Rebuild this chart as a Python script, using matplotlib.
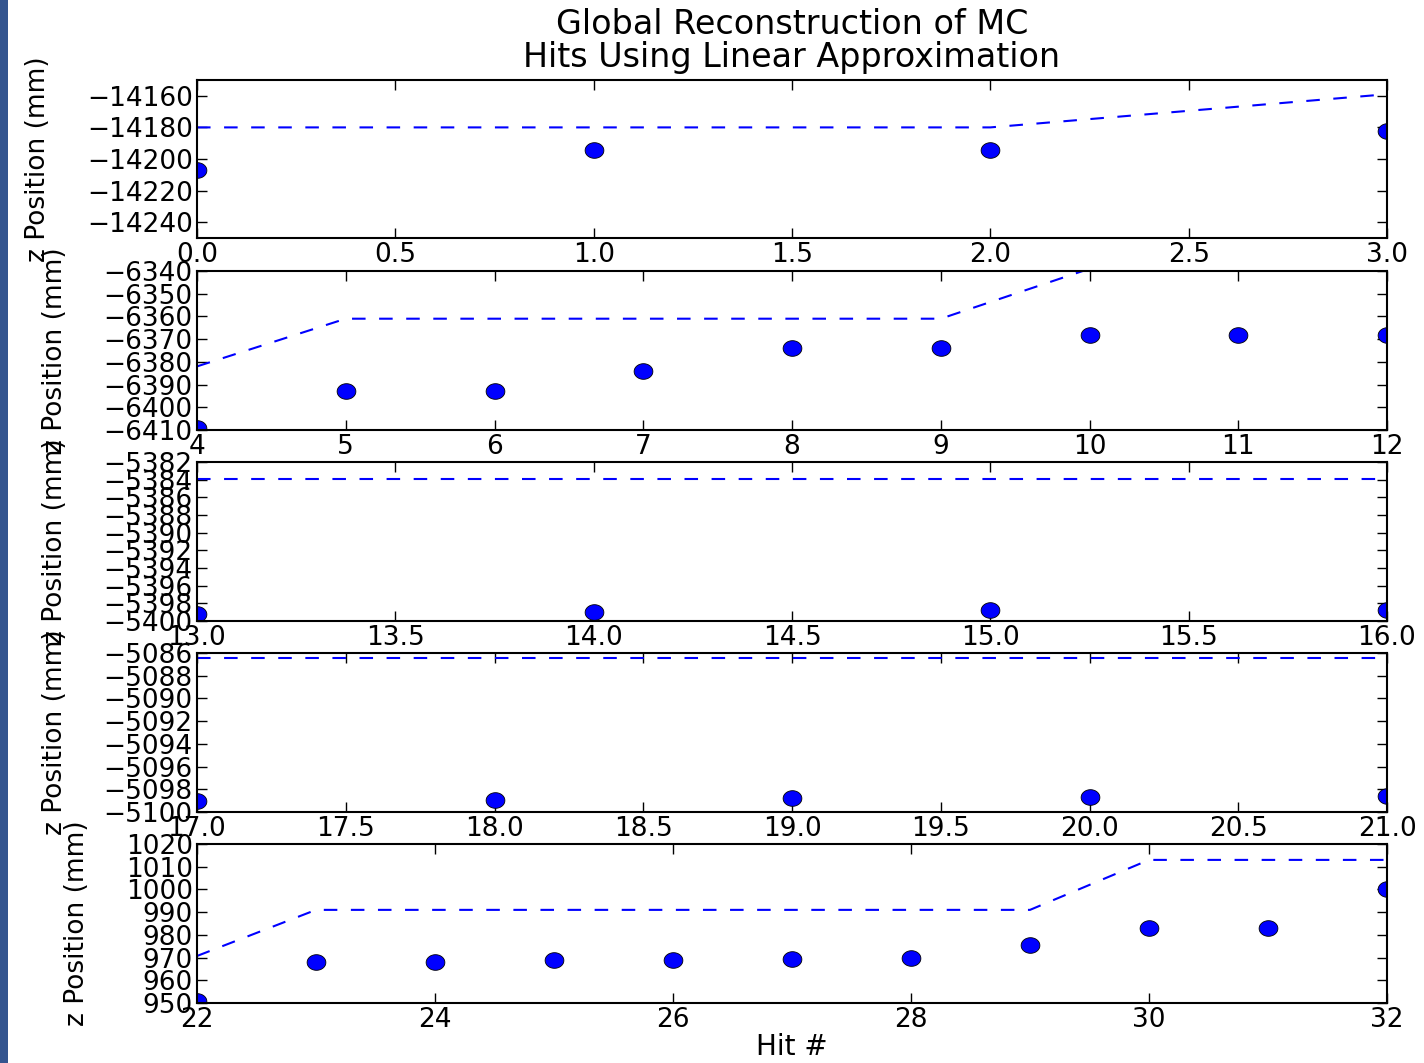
import matplotlib
matplotlib.use("Agg")
import matplotlib.pyplot as plt
import numpy as np
from matplotlib.patches import Rectangle
from matplotlib.ticker import MultipleLocator, ScalarFormatter

# hit numbers, measured z of the MC hits and the linear reconstruction, per panel
hits_1 = [0, 1, 2, 3]
z_mc_1 = [-14207, -14194, -14194, -14182]
z_fit_1 = [-14180, -14180, -14180, -14159]

hits_2 = [4, 5, 6, 7, 8, 9, 10, 11, 12]
z_mc_2 = [-6409, -6393, -6393, -6384, -6374, -6374, -6368, -6368, -6368]
z_fit_2 = [-6382, -6361, -6361, -6361, -6361, -6361, -6339, -6339, -6339]

hits_3 = [13, 14, 15, 16]
z_mc_3 = [-5399.2, -5399.0, -5398.8, -5398.8]
z_fit_3 = [-5383.9, -5383.9, -5383.9, -5383.9]

hits_4 = [17, 18, 19, 20, 21]
z_mc_4 = [-5099.0, -5098.9, -5098.8, -5098.7, -5098.6]
z_fit_4 = [-5086.4, -5086.4, -5086.4, -5086.4, -5086.4]

hits_5 = [22, 23, 24, 25, 26, 27, 28, 29, 30, 31, 32]
z_mc_5 = [951, 968, 968, 969, 969, 969.4, 970, 975.5, 983, 983, 1000]
z_fit_5 = [970.7, 991, 991, 991, 991, 991, 991, 991, 1013, 1013, 1013]

panels = [
    (hits_1, z_mc_1, z_fit_1, (-14250, -14150), 20, 0.5),
    (hits_2, z_mc_2, z_fit_2, (-6410, -6340), 10, 1),
    (hits_3, z_mc_3, z_fit_3, (-5400, -5382), 2, 0.5),
    (hits_4, z_mc_4, z_fit_4, (-5100, -5086), 2, 0.5),
    (hits_5, z_mc_5, z_fit_5, (950, 1020), 10, 2),
]

# axes boxes in pixels (top, bottom) of the 1424x1063 figure
boxes_px = [(80, 238), (271, 430), (462, 621), (653, 812), (844, 1003)]

W, H = 1424, 1063
FS = 19

plt.rcParams["font.family"] = ["DejaVu Sans"]

t = np.linspace(0, 2 * np.pi, 60)
ellipse = np.column_stack([1.2 * np.cos(t), np.sin(t)])

fig = plt.figure(figsize=(W / 100, H / 100), dpi=100)
fig.patches.append(Rectangle((0, 0), 8 / W, 1, transform=fig.transFigure,
                             facecolor="#34558f", edgecolor="none", zorder=-1))

axes = []
for (hits, z_mc, z_fit, ylim, ystep, xstep), (top, bot) in zip(panels, boxes_px):
    ax = fig.add_axes([197 / W, 1 - bot / H, (1387 - 197) / W, (bot - top) / H])
    ax.plot(hits, z_fit, color="blue", lw=1.5, dashes=(6.5, 6.5))
    ax.plot(hits, z_mc, linestyle="none", marker=ellipse, markersize=13.5,
            markerfacecolor="blue", markeredgecolor="black", markeredgewidth=0.6)
    ax.set_xlim(hits[0], hits[-1])
    ax.set_ylim(*ylim)
    ax.yaxis.set_major_locator(MultipleLocator(ystep))
    ax.xaxis.set_major_locator(MultipleLocator(xstep))
    ax.yaxis.set_major_formatter(ScalarFormatter(useOffset=False))
    ax.xaxis.set_major_formatter(ScalarFormatter(useOffset=False))
    ax.tick_params(direction="in", top=True, right=True, length=7, width=1,
                   labelsize=FS, pad=3)
    for s in ax.spines.values():
        s.set_linewidth(1.5)
    ax.set_ylabel("z Position (mm)", fontsize=FS, labelpad=26)
    axes.append(ax)

axes[0].set_title("Global Reconstruction of MC\nHits Using Linear Approximation",
                  fontsize=24, pad=9, linespacing=1.0)
axes[-1].set_xlabel("Hit #", fontsize=20, labelpad=0)

fig.savefig("out.png", dpi=100, facecolor="white")
